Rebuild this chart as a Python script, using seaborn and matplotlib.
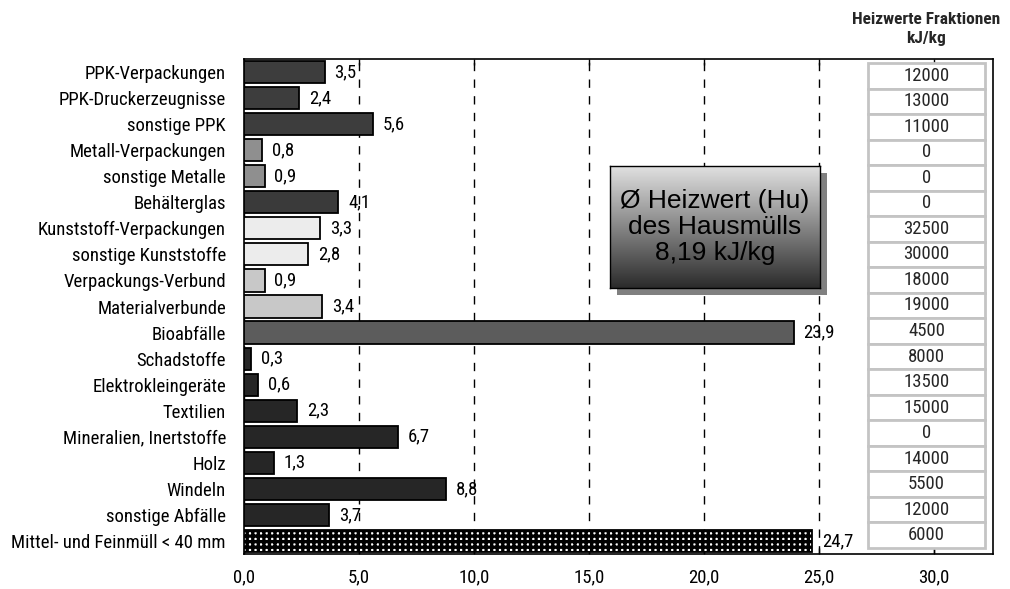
import numpy as np
import pandas as pd
import matplotlib
matplotlib.use("Agg")
import matplotlib.pyplot as plt
from matplotlib.patches import Rectangle
import seaborn as sns

# Fraktionen des Hausmülls: Anteile und Heizwerte
kategorien = [
    "PPK-Verpackungen", "PPK-Druckerzeugnisse", "sonstige PPK",
    "Metall-Verpackungen", "sonstige Metalle", "Behälterglas",
    "Kunststoff-Verpackungen", "sonstige Kunststoffe", "Verpackungs-Verbund",
    "Materialverbunde", "Bioabfälle", "Schadstoffe", "Elektrokleingeräte",
    "Textilien", "Mineralien, Inertstoffe", "Holz", "Windeln",
    "sonstige Abfälle", "Mittel- und Feinmüll < 40 mm",
]
anteile = [3.5, 2.4, 5.6, 0.8, 0.9, 4.1, 3.3, 2.8, 0.9, 3.4, 23.9,
           0.3, 0.6, 2.3, 6.7, 1.3, 8.8, 3.7, 24.7]
heizwerte = [12000, 13000, 11000, 0, 0, 0, 32500, 30000, 18000, 19000,
             4500, 8000, 13500, 15000, 0, 14000, 5500, 12000, 6000]
farben = ["#3d3d3d", "#3d3d3d", "#3d3d3d", "#8f8f8f", "#8f8f8f", "#3a3a3a",
          "#ececec", "#ececec", "#c8c8c8", "#c8c8c8", "#5c5c5c",
          "#262626", "#262626", "#262626", "#262626", "#262626", "#262626",
          "#262626", "#ffffff"]
x_ticks = [0, 5, 10, 15, 20, 25, 30]
kasten_zeilen = ["Ø Heizwert (Hu)", "des Hausmülls", "8,19 kJ/kg"]
tabellen_titel = "Heizwerte Fraktionen\nkJ/kg"

sns.set_theme(style="white")
plt.rcParams["font.family"] = ["Roboto Condensed", "Liberation Sans", "DejaVu Sans"]
plt.rcParams["hatch.linewidth"] = 2.4
plt.rcParams["hatch.color"] = "black"

FS = 13.5
W, H = 1010, 589
fig = plt.figure(figsize=(W / 100, H / 100), dpi=100)
ax = fig.add_axes([244 / W, 1 - 554 / H, (993 - 244) / W, (554 - 59) / H])

df = pd.DataFrame({"Fraktion": kategorien, "Anteil": anteile})
sns.barplot(data=df, x="Anteil", y="Fraktion", hue="Fraktion",
            palette=farben, legend=False, orient="h", width=0.85,
            edgecolor="black", linewidth=1.3, saturation=1, ax=ax, zorder=3)

# Mittel- und Feinmüll schraffiert
ax.patches[-1].set_hatch("+++")
ax.patches[-1].set_facecolor("white")

ax.set_xlim(0, 32.56)
ax.set_ylim(len(kategorien) - 0.5, -0.5)
ax.set_xlabel("")
ax.set_ylabel("")
ax.set_xticks(x_ticks)
ax.set_xticklabels([f"{t:.1f}".replace(".", ",") for t in x_ticks], fontsize=FS)
ax.tick_params(axis="x", direction="in", length=4, width=1, color="black",
               top=True, bottom=True, pad=10)
ax.tick_params(axis="y", length=0, pad=13, labelsize=FS)
for lbl in ax.get_yticklabels() + ax.get_xticklabels():
    lbl.set_color("black")

for s in ax.spines.values():
    s.set_color("black")
    s.set_linewidth(1.2)

ax.xaxis.grid(True, linestyle=(0, (6, 6)), color="black", linewidth=1)
ax.set_axisbelow(True)

# Wertbeschriftungen
for i, v in enumerate(anteile):
    ax.annotate(f"{v:.1f}".replace(".", ","), (v, i), xytext=(7, 0),
                textcoords="offset points", va="center", ha="left",
                fontsize=FS, color="black", zorder=5)

# Tabelle der Heizwerte
tab = ax.table(cellText=[[str(h)] for h in heizwerte], cellLoc="center",
               bbox=[(868 - 244) / 749, (554 - 548) / 495,
                     (985 - 868) / 749, (548 - 63) / 495], zorder=6)
tab.auto_set_font_size(False)
for (r, c), cell in tab.get_celld().items():
    cell.set_edgecolor("#c4c4c4")
    cell.set_linewidth(2)
    cell.set_facecolor("white")
    cell.get_text().set_fontsize(FS)

fig.text(926 / W, 1 - 29 / H, tabellen_titel, ha="center", va="center",
         fontsize=12.5, fontweight="bold", linespacing=1.3)

# Infokasten mit Schatten und Verlauf
bx0, bx1, by0, by1 = 610, 820, 166, 288
ax.add_patch(Rectangle(((bx0 + 7) / W, 1 - (by1 + 7) / H),
                       (bx1 - bx0) / W, (by1 - by0) / H,
                       transform=fig.transFigure, facecolor="#808080",
                       edgecolor="none", clip_on=False, zorder=10))
bax = fig.add_axes([bx0 / W, 1 - by1 / H, (bx1 - bx0) / W, (by1 - by0) / H])
grad = np.linspace(0.88, 0.17, 256).reshape(-1, 1)
bax.imshow(grad, cmap="gray", vmin=0, vmax=1, aspect="auto",
           extent=[0, 1, 0, 1])
bax.set_xticks([])
bax.set_yticks([])
for s in bax.spines.values():
    s.set_color("black")
    s.set_linewidth(1)
bax.text(0.5, 0.5, "\n".join(kasten_zeilen), ha="center", va="center",
         fontsize=19, family=["Liberation Sans", "DejaVu Sans"],
         linespacing=1.1, color="black")

fig.savefig("out.png", dpi=100)
